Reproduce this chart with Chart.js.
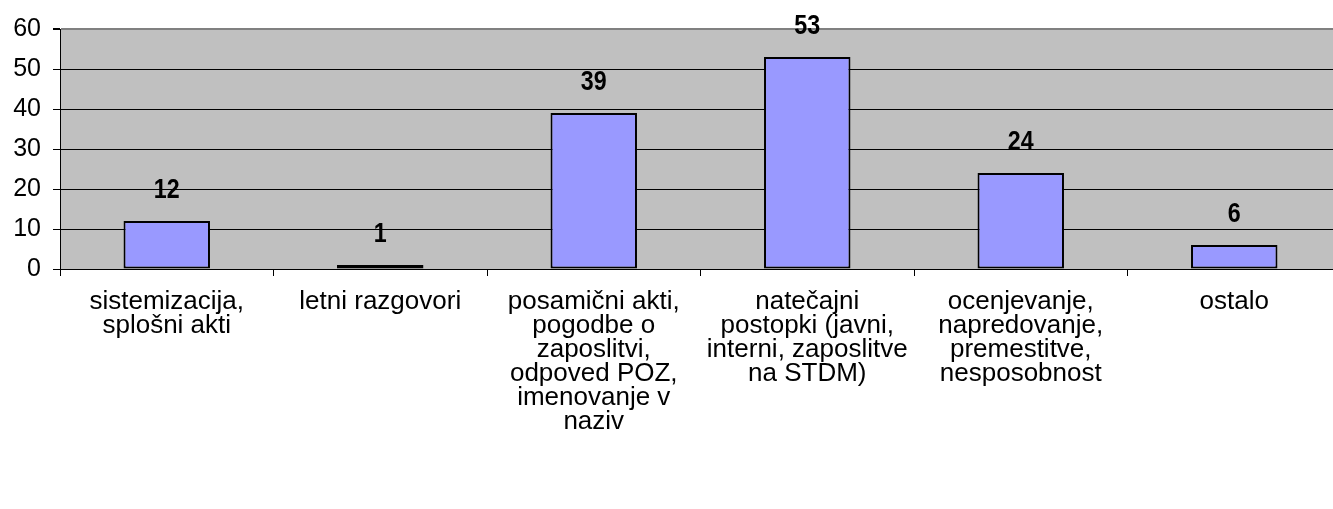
<!DOCTYPE html>
<html>
<head>
<meta charset="utf-8">
<script src="https://cdn.jsdelivr.net/npm/chart.js@4.4.0/dist/chart.umd.min.js"></script>
<style>
  html, body { margin: 0; padding: 0; background: #ffffff; overflow: hidden; }
  #wrap { width: 1341px; height: 509px; }
</style>
</head>
<body>
<div id="wrap"><canvas id="graf"></canvas></div>
<script>
// kategorije (vrstice oznak pod osjo)
const kategorije = [
  ["sistemizacija,", "splošni akti"],
  ["letni razgovori"],
  ["posamični akti,", "pogodbe o", "zaposlitvi,", "odpoved POZ,", "imenovanje v", "naziv"],
  ["natečajni", "postopki (javni,", "interni, zaposlitve", "na STDM)"],
  ["ocenjevanje,", "napredovanje,", "premestitve,", "nesposobnost"],
  ["ostalo"]
];
const vrednosti = [12, 1, 39, 53, 24, 6];
const yOznake = [0, 10, 20, 30, 40, 50, 60];

// sivo ozadje risalne površine
const ozadje = {
  id: "ozadje",
  beforeDraw(chart) {
    const { ctx, chartArea: a } = chart;
    ctx.save();
    ctx.fillStyle = "#c0c0c0";
    ctx.fillRect(a.left, a.top, a.right - a.left, a.bottom - a.top);
    ctx.restore();
  }
};

// številke nad stolpci (malo zožene, kot v izvirniku)
const oznake = {
  id: "oznake",
  afterDatasetsDraw(chart) {
    const ctx = chart.ctx;
    const meta = chart.getDatasetMeta(0);
    ctx.save();
    ctx.font = "bold 27px 'Liberation Sans', Arial, sans-serif";
    ctx.fillStyle = "#000";
    ctx.textAlign = "center";
    ctx.textBaseline = "middle";
    meta.data.forEach((bar, i) => {
      ctx.save();
      ctx.translate(bar.x, bar.y - 30);
      ctx.scale(0.86, 1);
      ctx.fillText(String(vrednosti[i]), 0, 0);
      ctx.restore();
    });
    ctx.restore();
  }
};

const config = {
  type: "bar",
  data: {
    labels: kategorije,
    datasets: [{
      data: vrednosti,
      backgroundColor: "#9999ff",
      borderColor: "#000000",
      borderWidth: 2,
      borderSkipped: false,
      barPercentage: 0.405,
      categoryPercentage: 1.0
    }]
  },
  options: {
    responsive: true,
    maintainAspectRatio: false,
    animation: false,
    layout: { padding: { top: 29, right: 0, left: 0, bottom: 0 } },
    plugins: { legend: { display: false }, tooltip: { enabled: false } },
    scales: {
      x: {
        grid: {
          offset: true,
          drawOnChartArea: false,
          color: "#000",
          tickLength: 7,
          tickColor: "#000"
        },
        border: { color: "#000", width: 1 },
        ticks: {
          color: "#000",
          font: { family: "'Liberation Sans', Arial, sans-serif", size: 26, lineHeight: 0.923 },
          padding: 14,
          maxRotation: 0,
          autoSkip: false
        },
        afterFit(scale) { scale.height = 240; }
      },
      y: {
        min: 0,
        max: 60,
        afterBuildTicks(scale) { scale.ticks = yOznake.map(v => ({ value: v })); },
        grid: {
          color: ctx => (ctx.tick && ctx.tick.value === 60 ? "#808080" : "#000"),
          lineWidth: ctx => (ctx.tick && ctx.tick.value === 60 ? 2 : 1),
          tickLength: 7,
          tickColor: "#000"
        },
        border: { color: "#000", width: 1 },
        ticks: {
          color: "#000",
          font: { family: "'Liberation Sans', Arial, sans-serif", size: 25 },
          padding: 12
        },
        afterFit(scale) { scale.width = 60; }
      }
    }
  },
  plugins: [ozadje, oznake]
};

new Chart(document.getElementById("graf"), config);
</script>
</body>
</html>
